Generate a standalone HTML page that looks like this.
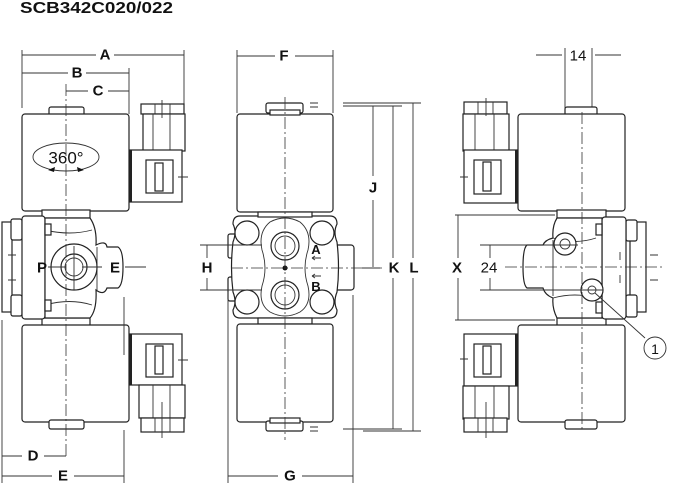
<!DOCTYPE html>
<html><head><meta charset="utf-8"><style>
html,body{margin:0;padding:0;background:#fff;width:687px;height:499px;overflow:hidden}
svg{display:block}
text{font-family:"Liberation Sans",Arial,sans-serif;fill:#111}
.l{fill:#fff;stroke:#222;stroke-width:1.2}
.d{stroke:#333;stroke-width:0.9;fill:none}
.c{stroke:#333;stroke-width:0.8;fill:none;stroke-dasharray:12 3 2 3}
.lab{font-size:15px;font-weight:bold;text-anchor:middle;dominant-baseline:central}
</style></head><body>
<svg width="687" height="499" viewBox="0 0 687 499">
<text x="20" y="13" textLength="153" lengthAdjust="spacingAndGlyphs" style="font-size:16px;font-weight:bold">SCB342C020/022</text>

<!-- ========== LEFT VIEW ========== -->
<g>
<path class="d" d="M22 50V108 M129 68V114 M184 50V104 M22 55H96 M114 55H184 M22 73H68 M86 73H129 M66 91H88 M108 91H129"/>
<text class="lab" x="105" y="55">A</text>
<text class="lab" x="77" y="73">B</text>
<text class="lab" x="98" y="91">C</text>
<rect class="l" x="49" y="107" width="35" height="9" rx="2"/>
<rect class="l" x="22" y="114" width="107" height="97" rx="3"/>
<ellipse class="d" cx="66" cy="157" rx="33" ry="14"/>
<path d="M48 170l7 -3 -1 5z M84 170l-7 -3 1 5z" fill="#111"/>
<text x="66" y="158" style="font-size:17px;text-anchor:middle;dominant-baseline:central">360°</text>
<rect class="l" x="141" y="104" width="43" height="10"/>
<path class="d" d="M155 104v10 M170 104v10"/>
<rect class="l" x="143" y="114" width="42" height="37"/>
<path class="d" d="M153 114v37 M170 114v37"/>
<rect class="l" x="130" y="150" width="52" height="52"/>
<rect x="129" y="150" width="3" height="52" fill="#222"/>
<rect class="l" x="146" y="160" width="27" height="33"/>
<rect class="l" x="155" y="163" width="8" height="28"/>
<path class="d" d="M162 100v18 M178 177h10"/>
<rect class="l" x="42" y="210" width="48" height="8"/>
<rect class="l" x="42" y="318" width="48" height="8"/>
<rect class="l" x="2" y="222" width="10" height="90"/>
<rect class="l" x="11" y="219" width="11" height="21" rx="2"/>
<rect class="l" x="11" y="295" width="11" height="21" rx="2"/>
<rect class="l" x="22" y="216" width="23" height="103" rx="3"/>
<path class="l" d="M45 218H90Q97 228 96 245Q106 240 107 247H118Q123 250 123 267Q123 285 118 288H107Q104 296 96 290Q97 310 90 318H45Z"/>
<path class="d" d="M45 230Q70 236 92 230 M45 305Q70 298 92 305 M97 247V290"/>
<rect class="l" x="45" y="224" width="6" height="11"/>
<rect class="l" x="45" y="300" width="6" height="11"/>
<circle class="l" cx="74" cy="267" r="23"/>
<circle class="l" cx="74" cy="267" r="13"/>
<circle class="d" cx="74" cy="267" r="9"/>
<path class="d" d="M48 267H66 M82 267H102 M74 246V290 M125 267H146 M8 255h8 M8 280h8"/>
<text class="lab" x="42" y="268">P</text>
<text class="lab" x="115" y="268">E</text>
<rect class="l" x="22" y="325" width="107" height="97" rx="3"/>
<rect class="l" x="49" y="420" width="35" height="9" rx="2"/>
<rect class="l" x="130" y="334" width="52" height="51"/>
<rect x="129" y="334" width="3" height="51" fill="#222"/>
<rect class="l" x="146" y="344" width="27" height="33"/>
<rect class="l" x="155" y="346" width="8" height="28"/>
<rect class="l" x="139" y="385" width="46" height="33"/>
<path class="d" d="M153 385v33 M170 385v33"/>
<rect class="l" x="141" y="418" width="43" height="14"/>
<path class="d" d="M155 418v14 M170 418v14 M162 402v36 M178 360h10"/>
<path class="c" d="M66 84V456"/>
<path class="d" d="M2 320V483 M124 297V355 M124 430V483 M2 456H22 M44 456H66 M2 476H52 M74 476H124"/>
<text class="lab" x="33" y="456">D</text>
<text class="lab" x="63" y="476">E</text>
</g>

<!-- ========== MIDDLE VIEW ========== -->
<g>
<path class="d" d="M237 50V113 M333 50V113 M237 56H275 M295 56H333"/>
<text class="lab" x="284" y="56">F</text>
<rect class="l" x="237" y="114" width="96" height="98" rx="3"/>
<rect class="l" x="266" y="103" width="37" height="10" rx="2"/>
<rect class="l" x="270" y="110" width="30" height="5"/>
<path class="d" d="M310 103H318 M310 107H318"/>
<rect class="l" x="228" y="234" width="9" height="24" rx="2"/>
<rect class="l" x="228" y="277" width="9" height="24" rx="2"/>
<rect class="l" x="334" y="245" width="20" height="45" rx="3"/>
<path class="l" d="M240 216H330Q337 216 337 224Q333 232 337 242Q340 268 337 292Q333 302 337 310Q337 318 330 318H240Q233 318 233 310Q237 302 233 292Q230 268 233 242Q237 232 233 224Q233 216 240 216Z"/>
<rect class="l" x="258" y="212" width="54" height="5"/>
<rect class="l" x="258" y="318" width="54" height="6"/>
<circle class="l" cx="247" cy="233" r="12"/>
<circle class="l" cx="322" cy="233" r="12"/>
<circle class="l" cx="247" cy="302" r="12"/>
<circle class="l" cx="322" cy="302" r="12"/>
<path class="d" d="M270 222Q285 214 300 222Q312 232 308 250Q302 268 308 286Q312 304 300 312Q285 320 270 312Q258 304 262 286Q268 268 262 250Q258 232 270 222Z"/>
<circle class="l" cx="285" cy="246" r="14"/>
<circle class="d" cx="285" cy="246" r="10"/>
<circle class="l" cx="285" cy="295" r="14"/>
<circle class="d" cx="285" cy="295" r="10"/>
<circle cx="285" cy="268" r="2.5" fill="#111"/>
<text x="316" y="254" style="font-size:13px;font-weight:bold;text-anchor:middle">A</text>
<text x="316" y="291" style="font-size:13px;font-weight:bold;text-anchor:middle">B</text>
<path class="d" d="M312 258h9 M312 258l3 -2 M312 258l3 2 M312 276h9 M312 276l3 -2 M312 276l3 2"/>
<path class="d" d="M200 245H262 M200 290H262 M207 245V258 M207 278V290"/>
<text class="lab" x="207" y="268">H</text>
<path class="c" d="M231 268H382"/>
<rect class="l" x="237" y="324" width="96" height="98" rx="3"/>
<rect class="l" x="266" y="421" width="37" height="10" rx="2"/>
<rect class="l" x="270" y="418" width="30" height="5"/>
<path class="d" d="M310 427H318 M310 431H318"/>
<path class="c" d="M285 97V440"/>
<path class="d" d="M343 103H421 M343 106H402 M343 429H402 M363 431H421 M373 106V176 M373 200V267 M393 106V258 M393 278V429 M413 103V258 M413 278V431 M362 268H380"/>
<text class="lab" x="373" y="188">J</text>
<text class="lab" x="394" y="268">K</text>
<text class="lab" x="414" y="268">L</text>
<path class="d" d="M228 292V483 M353 295V483 M228 476H278 M302 476H353"/>
<text class="lab" x="290" y="476">G</text>
</g>

<!-- ========== RIGHT VIEW ========== -->
<g>
<path class="d" d="M536 55H562 M595 55H621 M565 48V340 M592 48V340"/>
<text x="578" y="56" style="font-size:15px;text-anchor:middle;dominant-baseline:central">14</text>
<rect class="l" x="565" y="107" width="32" height="9" rx="2"/>
<rect class="l" x="518" y="114" width="107" height="97" rx="3"/>
<rect class="l" x="464" y="102" width="43" height="12"/>
<path class="d" d="M478 102v12 M493 102v12"/>
<rect class="l" x="463" y="114" width="46" height="37"/>
<path class="d" d="M475 114v37 M494 114v37"/>
<rect class="l" x="464" y="150" width="53" height="53"/>
<rect x="515" y="150" width="3" height="53" fill="#222"/>
<rect class="l" x="474" y="160" width="27" height="34"/>
<rect class="l" x="483" y="162" width="8" height="29"/>
<path class="d" d="M486 98v18 M460 177h8"/>
<rect class="l" x="557" y="210" width="49" height="8"/>
<rect class="l" x="557" y="318" width="49" height="8"/>
<rect class="l" x="630" y="222" width="16" height="90"/>
<rect class="l" x="626" y="220" width="11" height="21" rx="2"/>
<rect class="l" x="626" y="295" width="11" height="22" rx="2"/>
<rect class="l" x="602" y="217" width="24" height="102" rx="3"/>
<path class="l" d="M557 218H602V318H557Q552 308 553 298Q545 295 543 288H527Q523 285 523 267Q523 248 527 245H543Q545 240 553 238Q552 226 557 218Z"/>
<path class="d" d="M553 238Q575 245 596 238 M553 298Q575 292 596 298 M553 240V296"/>
<rect class="l" x="596" y="224" width="6" height="11"/>
<rect class="l" x="596" y="302" width="6" height="11"/>
<circle class="l" cx="565" cy="244" r="11"/>
<circle class="d" cx="565" cy="244" r="5"/>
<circle class="l" cx="592" cy="290" r="11"/>
<circle class="d" cx="592" cy="290" r="4"/>
<path class="d" d="M620 252v8 M620 275v8 M650 255h8 M650 280h8"/>
<path class="d" d="M455 215H555 M455 320H555 M458 215V258 M458 278V320 M480 245H578 M480 290H603 M490 245V258 M490 278V290"/>
<text class="lab" x="457" y="268">X</text>
<text x="489" y="268" style="font-size:15px;text-anchor:middle;dominant-baseline:central">24</text>
<path class="c" d="M505 267H664"/>
<path class="d" d="M595 293L645 338"/>
<circle class="d" cx="655" cy="348" r="11"/>
<text x="655" y="349" style="font-size:14px;text-anchor:middle;dominant-baseline:central">1</text>
<rect class="l" x="518" y="325" width="107" height="97" rx="3"/>
<rect class="l" x="565" y="420" width="32" height="9" rx="2"/>
<rect class="l" x="464" y="334" width="53" height="52"/>
<rect x="515" y="334" width="3" height="52" fill="#222"/>
<rect class="l" x="474" y="344" width="27" height="33"/>
<rect class="l" x="483" y="346" width="8" height="28"/>
<rect class="l" x="463" y="386" width="46" height="33"/>
<path class="d" d="M475 386v33 M494 386v33"/>
<rect class="l" x="464" y="418" width="43" height="14"/>
<path class="d" d="M478 418v14 M493 418v14 M486 402v36 M460 359h8"/>
<path class="c" d="M582 112V430"/>
</g>
</svg>
</body></html>
